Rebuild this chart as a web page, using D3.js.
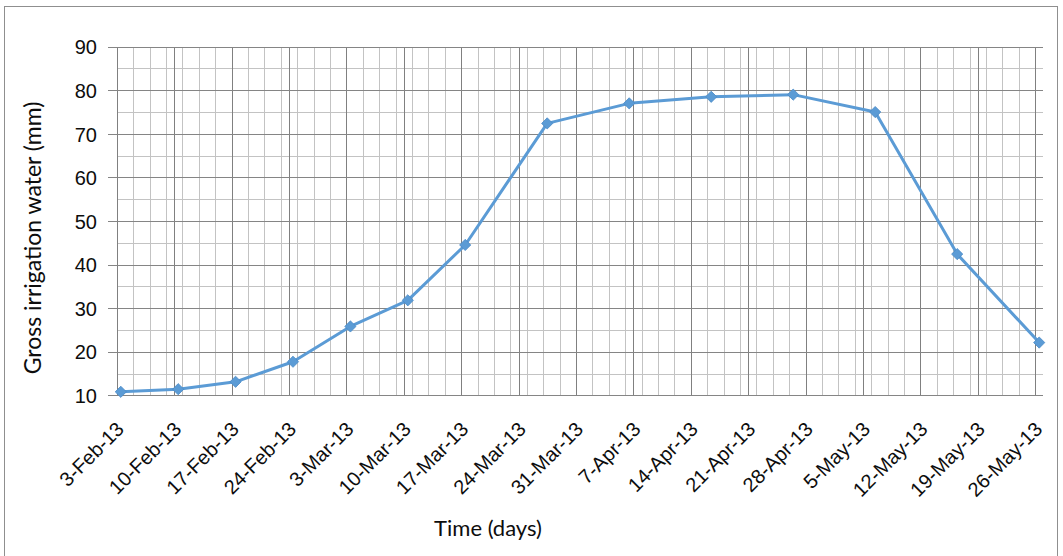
<!DOCTYPE html>
<html>
<head>
<meta charset="utf-8">
<script src="https://cdn.jsdelivr.net/npm/d3@7"></script>
<style>
  html, body { margin: 0; padding: 0; background: #fff; }
  svg { display: block; font-family: Lato, "Open Sans", sans-serif; }
</style>
</head>
<body>
<svg id="chart" width="1063" height="556"></svg>
<script>
// Gross irrigation water per application date
const sampleDates = ["3-Feb-13", "10-Feb-13", "17-Feb-13", "24-Feb-13", "3-Mar-13", "10-Mar-13", "17-Mar-13",
                     "27-Mar-13", "6-Apr-13", "16-Apr-13", "26-Apr-13", "6-May-13", "16-May-13", "26-May-13"];
const irrigationMm = [10.8, 11.4, 13.1, 17.7, 25.8, 31.8, 44.5, 72.4, 77.0, 78.5, 79.0, 75.0, 42.4, 22.1];

// Axis tick labels
const tickLabels = ["3-Feb-13", "10-Feb-13", "17-Feb-13", "24-Feb-13", "3-Mar-13", "10-Mar-13", "17-Mar-13",
                    "24-Mar-13", "31-Mar-13", "7-Apr-13", "14-Apr-13", "21-Apr-13", "28-Apr-13", "5-May-13",
                    "12-May-13", "19-May-13", "26-May-13"];
const yTicks = [10, 20, 30, 40, 50, 60, 70, 80, 90];

const parse = d3.utcParse("%d-%b-%y");
const fmt = d3.utcFormat("%-d-%b-%y");

const svg = d3.select("#chart");
const plotLeft = 116.7, plotRight = 1043.3, plotTop = 46.7, plotBottom = 395.3;
const textColor = "#0d0d0d";

// chart frame
svg.append("rect")
  .attr("x", 4.5).attr("y", 6.5).attr("width", 1053).attr("height", 580)
  .attr("fill", "#fff").attr("stroke", "#8f8f8f").attr("stroke-width", 1);

const tickDates = tickLabels.map(parse);
const start = tickDates[0];
const end = d3.utcDay.offset(tickDates[tickDates.length - 1], 1); // axis spans whole last day

const x = d3.scaleUtc().domain([start, end]).range([plotLeft, plotRight]);
const y = d3.scaleLinear().domain([yTicks[0], yTicks[yTicks.length - 1]]).range([plotBottom, plotTop]);

// minor grid: every 2 days / every 5 mm
const minorDates = d3.utcDay.range(start, end, 2);
const minorY = y.ticks(16).filter(v => !yTicks.includes(v));

const gMinorV = svg.append("g").attr("transform", `translate(0,${plotBottom})`)
  .call(d3.axisBottom(x).tickValues(minorDates).tickSize(-(plotBottom - plotTop)).tickFormat(""));
gMinorV.select(".domain").remove();
gMinorV.selectAll("line").attr("stroke", "#c3c3c3").attr("shape-rendering", "crispEdges");

const gMinorH = svg.append("g").attr("transform", `translate(${plotLeft},0)`)
  .call(d3.axisLeft(y).tickValues(minorY).tickSize(-(plotRight - plotLeft)).tickFormat(""));
gMinorH.select(".domain").remove();
gMinorH.selectAll("line").attr("stroke", "#c3c3c3").attr("shape-rendering", "crispEdges");

// major vertical grid + date labels
const gx = svg.append("g").attr("transform", `translate(0,${plotBottom})`)
  .call(d3.axisBottom(x).tickValues(tickDates).tickSize(-(plotBottom - plotTop)).tickFormat(fmt));
gx.select(".domain").remove();
gx.selectAll("line").attr("stroke", "#808080").attr("shape-rendering", "crispEdges");
gx.selectAll("text")
  .attr("font-size", 20).attr("fill", textColor)
  .attr("text-anchor", "end")
  .attr("y", 0).attr("dy", 0)
  .attr("transform", "translate(8,35) rotate(-45)");

// major horizontal grid with outside ticks + value labels
const yAxisX = plotLeft - 8.7;
const gy = svg.append("g").attr("transform", `translate(${yAxisX},0)`)
  .call(d3.axisLeft(y).tickValues(yTicks).tickSize(-(plotRight - yAxisX)).tickPadding(11));
gy.select(".domain").remove();
gy.selectAll("line").attr("stroke", "#858585").attr("shape-rendering", "crispEdges");
gy.selectAll("text").attr("font-size", 20).attr("fill", textColor).attr("dy", "0.36em");

// series line
const pts = sampleDates.map((d, i) => ({ date: d3.utcHour.offset(parse(d), 12), v: irrigationMm[i] }));
svg.append("path")
  .datum(pts)
  .attr("fill", "none")
  .attr("stroke", "#5b9bd5")
  .attr("stroke-width", 3)
  .attr("stroke-linejoin", "round")
  .attr("d", d3.line().x(d => x(d.date)).y(d => y(d.v)));

// diamond markers
svg.append("g").selectAll("path")
  .data(pts)
  .join("path")
  .attr("transform", d => `translate(${x(d.date)},${y(d.v)})`)
  .attr("d", d3.symbol(d3.symbolDiamond2, 80)())
  .attr("fill", "#5b9bd5")
  .attr("stroke", "#4a8ac6")
  .attr("stroke-width", 0.8);

// axis titles
svg.append("text")
  .attr("transform", `translate(41,${(plotTop + plotBottom) / 2 + 17}) rotate(-90)`)
  .attr("text-anchor", "middle")
  .attr("font-size", 23).attr("fill", textColor)
  .text("Gross irrigation water (mm)");

svg.append("text")
  .attr("x", 488).attr("y", 536)
  .attr("text-anchor", "middle")
  .attr("font-size", 22).attr("fill", textColor)
  .text("Time (days)");
</script>
</body>
</html>
